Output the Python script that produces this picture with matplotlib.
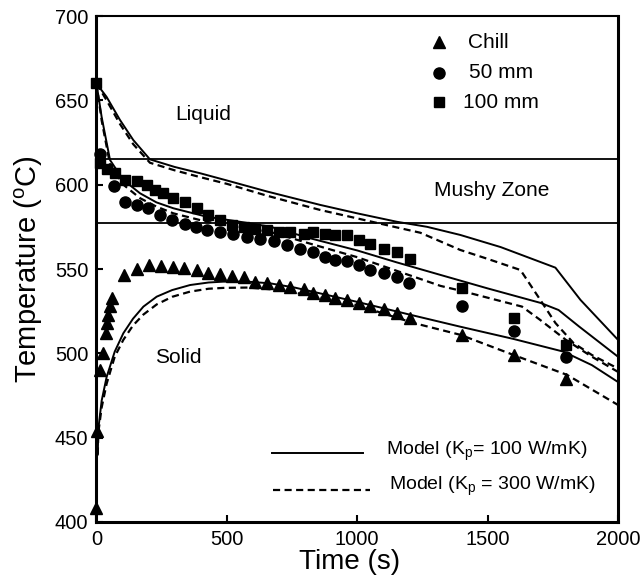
import matplotlib
matplotlib.use("Agg")
import matplotlib.pyplot as plt

plt.rcParams["font.family"] = ["Liberation Sans", "DejaVu Sans"]
plt.rcParams["mathtext.fontset"] = "custom"
plt.rcParams["mathtext.rm"] = "Liberation Sans"
plt.rcParams["mathtext.it"] = "Liberation Sans"

# measured data
chill_t = [0, 3, 15, 25, 35, 40, 45, 52, 58, 105, 157, 202, 247, 292, 337, 385, 429, 474, 519,
           564, 608, 653, 699, 744, 794, 832, 877, 916, 960, 1005, 1050, 1101, 1152, 1203,
           1400, 1600, 1800]
chill_T = [408, 454, 490, 500, 512, 518, 523, 528, 533, 546.5, 550, 552.4, 551.6, 551.4, 550.4,
           549.4, 547.5, 547, 546, 545, 542.5, 541.6, 540.5, 539.5, 538, 536, 534.5, 533, 531.5,
           530, 528, 526, 524, 521, 511, 499, 485]

mm50_t = [13, 68, 109, 154, 199, 244, 289, 340, 380, 423, 474, 525, 577, 628, 679, 730, 781, 832,
          877, 916, 960, 1005, 1050, 1101, 1152, 1197, 1400, 1600, 1800]
mm50_T = [618, 599, 590, 588, 586, 582, 579, 576.5, 575, 573, 572, 570.5, 569, 568, 566.5, 564.5,
          562, 560, 557, 555.5, 554.5, 552.4, 549.5, 547.5, 545.5, 541.6, 528, 513.5, 498]

mm100_t = [0, 13, 39, 71, 109, 154, 193, 225, 256, 295, 340, 385, 429, 474, 519, 564, 609, 654,
           699, 744, 794, 832, 877, 916, 960, 1005, 1050, 1101, 1152, 1203, 1400, 1600, 1800]
mm100_T = [660, 613, 609, 607, 603, 602, 600, 597, 595, 592, 590, 586, 582, 579, 576, 575, 574,
           573, 572, 572, 571, 572, 571, 570, 570, 567, 565, 562, 560, 556, 538.5, 521, 505]

# model, Kp = 100 W/mK (solid lines)
m100_top_t = [0, 39, 90, 141, 205, 300, 397, 500, 653, 858, 1000, 1152, 1268, 1395, 1550, 1760, 1856, 2000]
m100_top_T = [660, 652, 638.4, 626.5, 615, 610.5, 606.8, 602.5, 596, 588, 583, 578, 575, 570.2, 563, 550.8, 531.7, 508]
m100_mid_t = [0, 20, 52, 103, 167, 230, 295, 423, 550, 666, 820, 1000, 1150, 1319, 1500, 1703, 1772, 1850, 2000]
m100_mid_T = [660, 640, 614.6, 602.8, 594.9, 589.5, 586, 581, 578, 575.1, 568.2, 561, 554, 546.5, 538.5, 529.9, 525.7, 516, 498]
m100_chill_t = [5, 7, 20, 39, 70, 103, 140, 180, 231, 290, 359, 430, 487, 580, 666, 760, 859, 1000, 1200, 1395, 1600, 1791, 1900, 2000]
m100_chill_T = [440, 455, 472, 486, 501, 511.9, 520.5, 527.7, 533.6, 537.5, 540.5, 542, 542.5, 542.5, 541.5, 539, 535.5, 530.5, 523, 515.8, 508.5, 501, 493, 483]

# model, Kp = 300 W/mK (dashed lines)
m300_top_t = [0, 39, 90, 141, 205, 300, 397, 500, 653, 858, 1000, 1139, 1242, 1395, 1500, 1626, 1702, 1760, 1830, 1900, 2000]
m300_top_T = [660, 650, 636, 624, 613, 608.5, 604.5, 600.5, 593.5, 585, 580, 575.1, 571.5, 561.3, 556, 549.4, 531.7, 518, 506, 499, 491]
m300_mid_t = [0, 20, 52, 103, 167, 230, 295, 423, 550, 666, 820, 1000, 1150, 1319, 1400, 1632, 1700, 1800, 1900, 2000]
m300_mid_T = [660, 638, 612, 600, 592, 587, 583, 578, 575, 572, 565, 557, 549, 540, 537, 527.7, 520, 508, 498, 489]
m300_chill_t = [5, 7, 20, 39, 70, 103, 140, 180, 231, 290, 359, 430, 487, 580, 666, 760, 859, 1000, 1216, 1395, 1600, 1805, 2000]
m300_chill_T = [440, 453, 468, 482, 498, 508, 516.5, 523, 529, 533.5, 536.6, 538.3, 538.8, 539, 538, 536, 533, 528.5, 518, 511, 499, 487.2, 469.4]

liquidus = 615
solidus = 577


def main() -> None:
    fig = plt.figure(figsize=(6.41, 5.78), dpi=100)
    ax = fig.add_axes([0.1505, 0.0969, 0.8136, 0.8754])

    ax.axhline(liquidus, color="black", lw=1.3)
    ax.axhline(solidus, color="black", lw=1.3)

    dash = (0, (3.2, 2.0))
    for t, T in [(m100_top_t, m100_top_T), (m100_mid_t, m100_mid_T), (m100_chill_t, m100_chill_T)]:
        ax.plot(t, T, color="black", lw=1.4, clip_on=False)
    for t, T in [(m300_top_t, m300_top_T), (m300_mid_t, m300_mid_T), (m300_chill_t, m300_chill_T)]:
        ax.plot(t, T, color="black", lw=1.6, linestyle=dash, clip_on=False)

    ax.plot(chill_t, chill_T, "^", color="black", ms=8, clip_on=False)
    ax.plot(mm50_t, mm50_T, "o", color="black", ms=8, clip_on=False)
    ax.plot(mm100_t, mm100_T, "s", color="black", ms=6.8, clip_on=False)

    # marker legend
    ax.plot([1315], [684.5], "^", color="black", ms=8)
    ax.plot([1312], [666.5], "o", color="black", ms=8)
    ax.plot([1312], [649], "s", color="black", ms=6.8)
    ax.text(1426, 684.5, "Chill", fontsize=15, va="center")
    ax.text(1430, 666.5, "50 mm", fontsize=15, va="center")
    ax.text(1405, 649, "100 mm", fontsize=15, va="center")

    # line legend
    ax.plot([674, 1023], [441, 441], color="black", lw=1.4)
    ax.plot([678, 1050], [419, 419], color="black", lw=1.6, linestyle=dash)
    ax.text(1112, 442, r"Model (K$_\mathrm{p}$= 100 W/mK)", fontsize=14, va="center")
    ax.text(1122, 421, r"Model (K$_\mathrm{p}$ = 300 W/mK)", fontsize=14, va="center")

    ax.text(411, 641.5, "Liquid", fontsize=15, ha="center", va="center")
    ax.text(1514, 596.5, "Mushy Zone", fontsize=15, ha="center", va="center")
    ax.text(315, 497.3, "Solid", fontsize=15, ha="center", va="center")

    ax.set_xlim(0, 2000)
    ax.set_ylim(400, 700)
    ax.set_xticks([0, 500, 1000, 1500, 2000])
    ax.set_yticks([400, 450, 500, 550, 600, 650, 700])
    ax.tick_params(direction="in", length=5, width=1.5, labelsize=14.5, pad=6)
    for side in ["left", "bottom", "right"]:
        ax.spines[side].set_linewidth(2.2)
    ax.spines["top"].set_linewidth(1.5)

    ax.set_xlabel("Time (s)", fontsize=20)
    ax.xaxis.set_label_coords(0.485, -0.054, transform=ax.transAxes)
    ax.xaxis.label.set_va("top")
    ax.set_ylabel(r"Temperature ($^\mathrm{o}$C)", fontsize=21, labelpad=7)

    fig.savefig("out.png", dpi=100)
    plt.close(fig)


if __name__ == "__main__":
    main()
